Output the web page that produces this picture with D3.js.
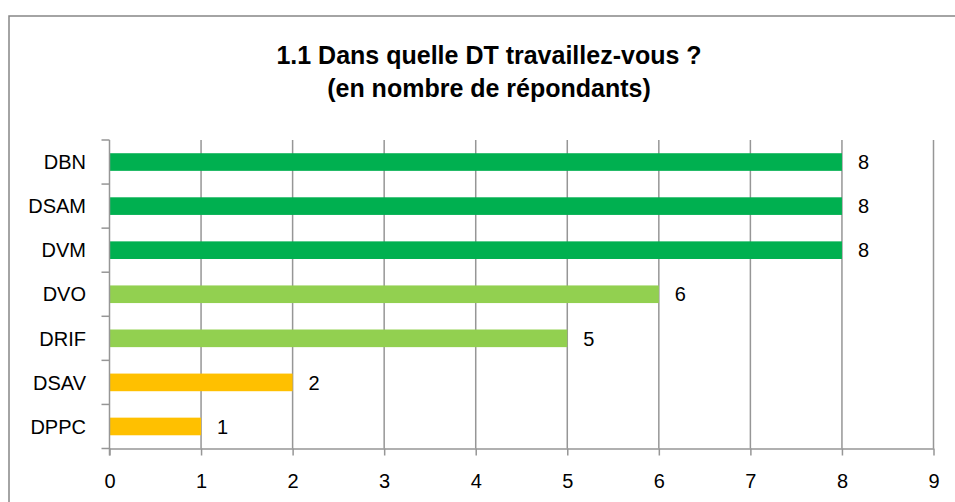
<!DOCTYPE html>
<html>
<head>
<meta charset="utf-8">
<script src="https://cdn.jsdelivr.net/npm/d3@7"></script>
<style>
  html, body { margin: 0; background: #fff; overflow: hidden; }
  svg { display: block; font-family: "Liberation Sans", Arial, sans-serif; }
</style>
</head>
<body>
<svg width="955" height="502"></svg>
<script>
const categories = ['DBN', 'DSAM', 'DVM', 'DVO', 'DRIF', 'DSAV', 'DPPC'];
const values = [8, 8, 8, 6, 5, 2, 1];
const colors = ['#00B050', '#00B050', '#00B050', '#92D050', '#92D050', '#FFC000', '#FFC000'];
const xTicks = [0, 1, 2, 3, 4, 5, 6, 7, 8, 9];
const titleLines = ['1.1 Dans quelle DT travaillez-vous ?', '(en nombre de répondants)'];

const data = categories.map((c, i) => ({ name: c, value: values[i], color: colors[i] }));

const svg = d3.select('svg');
const labelSize = 20;

// chart frame: only the left and top edges are inside the picture
svg.append('path')
  .attr('d', 'M9,502 L9,16 L955,16')
  .attr('fill', 'none')
  .attr('stroke', '#868686')
  .attr('stroke-width', 1.5);

const margin = { left: 109.5, top: 140, right: 933.5, bottom: 448.5 };

const x = d3.scaleLinear()
  .domain([0, 9])
  .range([margin.left, margin.right]);

const y = d3.scaleBand()
  .domain(categories)
  .range([margin.top, margin.bottom])
  .paddingInner(0.6)
  .paddingOuter(0.3);

const yOuter = d3.scaleBand()
  .domain(categories)
  .range([margin.top, margin.bottom]);

// title
svg.selectAll('text.title')
  .data(titleLines)
  .enter()
  .append('text')
  .attr('class', 'title')
  .attr('x', 489)
  .attr('y', (d, i) => 64 + i * 33)
  .attr('text-anchor', 'middle')
  .attr('font-weight', 'bold')
  .attr('font-size', 25)
  .attr('fill', '#000')
  .text((d) => d);

// vertical gridlines
svg.selectAll('line.grid')
  .data(xTicks.slice(1))
  .enter()
  .append('line')
  .attr('class', 'grid')
  .attr('x1', (d) => x(d)).attr('x2', (d) => x(d))
  .attr('y1', margin.top).attr('y2', margin.bottom)
  .attr('stroke', '#969696')
  .attr('stroke-width', 1.5);

// bars
svg.selectAll('rect.bar')
  .data(data)
  .enter()
  .append('rect')
  .attr('class', 'bar')
  .attr('x', x(0))
  .attr('y', (d) => y(d.name))
  .attr('width', (d) => x(d.value) - x(0))
  .attr('height', y.bandwidth())
  .attr('fill', (d) => d.color);

// value labels
svg.selectAll('text.val')
  .data(data)
  .enter()
  .append('text')
  .attr('class', 'val')
  .attr('x', (d) => x(d.value) + 16)
  .attr('y', (d) => y(d.name) + y.bandwidth() / 2)
  .attr('dy', '0.36em')
  .attr('font-size', labelSize)
  .attr('fill', '#000')
  .text((d) => d.value);

// x axis
const xAxis = svg.append('g')
  .attr('transform', `translate(0,${margin.bottom})`)
  .call(d3.axisBottom(x).tickValues(xTicks).tickSize(7).tickPadding(18).tickSizeOuter(0));
xAxis.select('.domain').attr('stroke', '#969696').attr('stroke-width', 1.5);
xAxis.selectAll('.tick line').attr('stroke', '#969696').attr('stroke-width', 1.5);
xAxis.selectAll('.tick text')
  .attr('font-size', labelSize)
  .attr('font-family', '"Liberation Sans", Arial, sans-serif')
  .attr('fill', '#000');

// y axis: ticks sit on the band boundaries
const yAxis = svg.append('g')
  .attr('transform', `translate(${margin.left},0)`);
yAxis.append('line')
  .attr('x1', 0).attr('x2', 0)
  .attr('y1', margin.top).attr('y2', margin.bottom + 7)
  .attr('stroke', '#969696')
  .attr('stroke-width', 1.5);
yAxis.selectAll('line.ytick')
  .data(categories)
  .enter()
  .append('line')
  .attr('class', 'ytick')
  .attr('x1', -8).attr('x2', 0)
  .attr('y1', (d) => yOuter(d)).attr('y2', (d) => yOuter(d))
  .attr('stroke', '#969696')
  .attr('stroke-width', 1.5);
yAxis.append('line')
  .attr('x1', -8).attr('x2', 0)
  .attr('y1', margin.bottom).attr('y2', margin.bottom)
  .attr('stroke', '#969696')
  .attr('stroke-width', 1.5);
yAxis.selectAll('text.ylab')
  .data(categories)
  .enter()
  .append('text')
  .attr('class', 'ylab')
  .attr('x', -23.5)
  .attr('y', (d) => yOuter(d) + yOuter.bandwidth() / 2)
  .attr('dy', '0.36em')
  .attr('text-anchor', 'end')
  .attr('font-size', labelSize)
  .attr('fill', '#000')
  .text((d) => d);
</script>
</body>
</html>
